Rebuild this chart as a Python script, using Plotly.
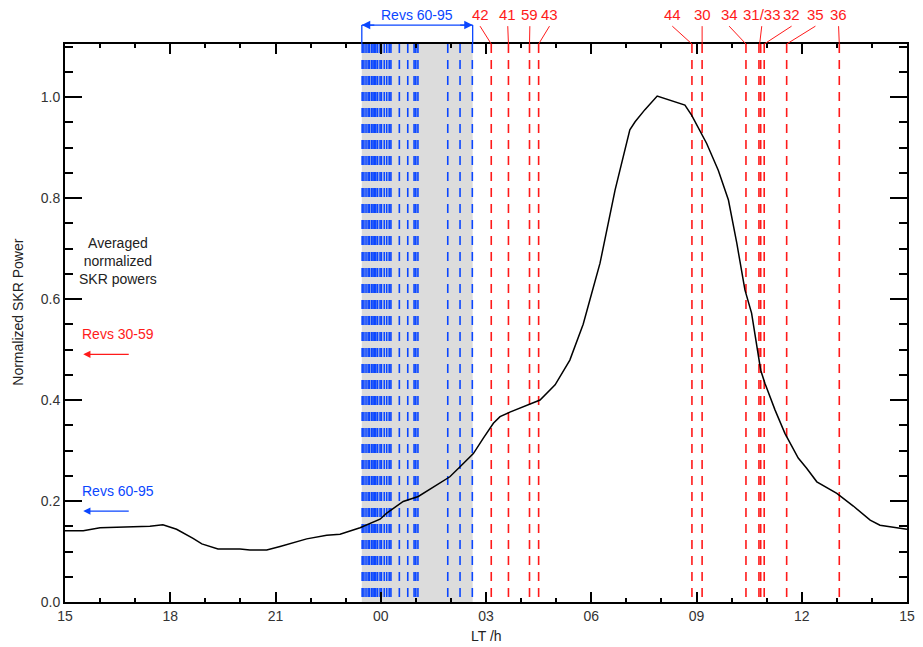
import plotly.graph_objects as go

# ---------------- data ----------------
# Local time in hours (values > 24 belong to the next day)
lt_curve = [15.00, 15.52, 16.00, 16.65, 17.42, 17.79, 18.18, 18.65, 18.90, 19.36,
            19.99, 20.27, 20.75, 21.13, 21.89, 22.46, 22.84, 23.41, 23.98, 24.17,
            24.64, 25.07, 25.60, 25.97, 26.26, 26.45, 26.64, 26.92, 27.21, 27.40,
            27.68, 28.54, 28.97, 29.39, 29.77, 29.96, 30.25, 30.68, 30.91, 31.10,
            31.25, 31.53, 31.88, 32.67, 32.86, 33.29, 33.62, 33.91, 34.15, 34.38,
            34.57, 34.72, 34.83, 34.95, 35.24, 35.52, 35.90, 36.14, 36.43, 37.00,
            37.47, 37.95, 38.23, 38.61, 39.00]
skr_power = [0.141, 0.141, 0.147, 0.149, 0.150, 0.153, 0.144, 0.126, 0.115, 0.105,
             0.105, 0.103, 0.103, 0.110, 0.125, 0.132, 0.134, 0.147, 0.164, 0.176,
             0.199, 0.209, 0.232, 0.248, 0.268, 0.281, 0.294, 0.324, 0.354, 0.367,
             0.376, 0.400, 0.430, 0.479, 0.550, 0.598, 0.671, 0.816, 0.882, 0.935,
             0.951, 0.975, 1.002, 0.984, 0.964, 0.908, 0.855, 0.796, 0.710, 0.618,
             0.572, 0.505, 0.459, 0.433, 0.380, 0.334, 0.285, 0.265, 0.238, 0.215,
             0.190, 0.162, 0.152, 0.148, 0.144]

# Revs 60-95 local times
blue_revs_lt = [23.47, 23.52, 23.58, 23.64, 23.68, 23.74, 23.78, 23.82, 23.86, 23.91,
                23.98, 24.02, 24.10, 24.17, 24.24, 24.29, 24.53, 24.77, 24.95, 25.00,
                25.06, 25.91, 26.26, 26.61]
blue_span = [23.46, 26.62]

# Revs 30-59 local times with labels
red_rev_labels = ["42", "41", "59", "43", "44", "30", "34", "31", "33", "32", "35", "36"]
red_revs_lt = [27.15, 27.64, 28.24, 28.50, 32.87, 33.16, 34.41, 34.78, 34.83, 34.93, 35.57, 37.07]

# top label texts, their LT positions, and the LT their leader lines point to
top_labels = ["42", "41", "59", "43", "44", "30", "34", "31/33", "32", "35", "36"]
top_label_lt = [26.83, 27.62, 28.25, 28.81, 32.31, 33.16, 33.93, 34.86, 35.71, 36.39, 37.05]
top_leader_lt = [27.15, 27.64, 28.24, 28.50, 32.87, 33.16, 34.41, 34.80, 34.93, 35.57, 37.07]

x_tickvals = [15, 18, 21, 24, 27, 30, 33, 36, 39]
x_ticktext = ["15", "18", "21", "00", "03", "06", "09", "12", "15"]
y_tickvals = [0.0, 0.2, 0.4, 0.6, 0.8, 1.0]
y_ticktext = ["0.0", "0.2", "0.4", "0.6", "0.8", "1.0"]

Y_TOP = 1.105
RED = "#ff1a1a"
BLUE = "#0a46ff"
FONT = "Liberation Sans, Arial, Helvetica, sans-serif"

fig = go.Figure()


def vlines(xs):
    xx, yy = [], []
    for x in xs:
        xx += [x, x, None]
        yy += [Y_TOP, 0, None]
    return xx, yy


bx, by = vlines(blue_revs_lt)
fig.add_trace(go.Scatter(x=bx, y=by, mode="lines", hoverinfo="skip",
                         line=dict(color=BLUE, width=1.6, dash="9px,7px")))
rx, ry = vlines(red_revs_lt)
fig.add_trace(go.Scatter(x=rx, y=ry, mode="lines", hoverinfo="skip",
                         line=dict(color=RED, width=1.6, dash="9px,7px")))
fig.add_trace(go.Scatter(x=lt_curve, y=skr_power, mode="lines",
                         line=dict(color="black", width=1.5)))

shapes = [dict(type="rect", xref="x", yref="y", x0=blue_span[0], x1=blue_span[1],
               y0=0, y1=Y_TOP, fillcolor="#dcdcdc", line=dict(width=0), layer="below")]

annotations = []
# top red labels and leader lines
for txt, xl, xt in zip(top_labels, top_label_lt, top_leader_lt):
    annotations.append(dict(x=xl, y=1.052, xref="x", yref="paper", text=txt,
                            showarrow=False, font=dict(color=RED, size=15, family=FONT),
                            xanchor="center", yanchor="middle"))
    shapes.append(dict(type="line", xref="x", yref="paper", x0=xl, x1=xt,
                       y0=1.032, y1=1.0, line=dict(color=RED, width=1)))

# blue bracket on top
shapes.append(dict(type="line", xref="x", yref="paper", x0=blue_span[0], x1=blue_span[1],
                   y0=1.034, y1=1.034, line=dict(color=BLUE, width=1.3)))
for xb in blue_span:
    shapes.append(dict(type="line", xref="x", yref="paper", x0=xb, x1=xb,
                       y0=1.034, y1=1.0, line=dict(color=BLUE, width=1.3)))
annotations.append(dict(x=blue_span[0], y=1.034, xref="x", yref="paper", text="",
                        showarrow=True, ax=14, ay=0, arrowhead=2, arrowsize=1.3,
                        arrowwidth=1.3, arrowcolor=BLUE, standoff=0))
annotations.append(dict(x=blue_span[1], y=1.034, xref="x", yref="paper", text="",
                        showarrow=True, ax=-14, ay=0, arrowhead=2, arrowsize=1.3,
                        arrowwidth=1.3, arrowcolor=BLUE, standoff=0))
annotations.append(dict(x=25.03, y=1.052, xref="x", yref="paper", text="Revs 60-95",
                        showarrow=False, font=dict(color=BLUE, size=14, family=FONT),
                        xanchor="center", yanchor="middle"))

# left legend-like notes
annotations.append(dict(x=16.5, y=0.675, xref="x", yref="y",
                        text="Averaged<br>normalized<br>SKR powers", showarrow=False,
                        font=dict(color="#222222", size=14, family=FONT),
                        xanchor="center", yanchor="middle"))
annotations.append(dict(x=16.5, y=0.530, xref="x", yref="y", text="Revs 30-59",
                        showarrow=False, font=dict(color=RED, size=14, family=FONT),
                        xanchor="center", yanchor="middle"))
annotations.append(dict(x=15.52, y=0.4905, xref="x", yref="y", text="",
                        showarrow=True, ax=47, ay=0, arrowhead=2, arrowsize=1.2,
                        arrowwidth=1.2, arrowcolor=RED, standoff=0))
annotations.append(dict(x=16.5, y=0.219, xref="x", yref="y", text="Revs 60-95",
                        showarrow=False, font=dict(color=BLUE, size=14, family=FONT),
                        xanchor="center", yanchor="middle"))
annotations.append(dict(x=15.52, y=0.180, xref="x", yref="y", text="",
                        showarrow=True, ax=47, ay=0, arrowhead=2, arrowsize=1.2,
                        arrowwidth=1.2, arrowcolor=BLUE, standoff=0))

# axis titles
annotations.append(dict(x=-0.056, y=0.52, xref="paper", yref="paper",
                        text="Normalized SKR Power", textangle=-90, showarrow=False,
                        font=dict(color="#222222", size=14, family=FONT),
                        xanchor="center", yanchor="middle"))
annotations.append(dict(x=0.5, y=-0.061, xref="paper", yref="paper", text="LT /h",
                        showarrow=False, font=dict(color="#222222", size=14, family=FONT),
                        xanchor="center", yanchor="middle"))

fig.update_layout(
    width=923, height=647,
    margin=dict(l=65, r=16, t=44, b=45, autoexpand=False),
    plot_bgcolor="white", paper_bgcolor="white",
    showlegend=False,
    shapes=shapes, annotations=annotations,
    font=dict(family=FONT, size=14, color="#333333"),
    xaxis=dict(range=[15, 39], tickvals=x_tickvals, ticktext=x_ticktext,
               automargin=False,
               ticks="inside", ticklen=10, tickwidth=1.5, tickcolor="black",
               showline=True, linewidth=2, linecolor="black", mirror="allticks",
               showgrid=False, zeroline=False,
               minor=dict(dtick=1, tick0=15, ticks="inside", ticklen=4,
                          tickwidth=1.5, tickcolor="black", showgrid=False),
               tickfont=dict(size=14, color="#333333", family=FONT)),
    yaxis=dict(range=[0, Y_TOP], tickvals=y_tickvals, ticktext=y_ticktext,
               automargin=False,
               ticks="inside", ticklen=17, tickwidth=1.5, tickcolor="black",
               showline=True, linewidth=2, linecolor="black", mirror="allticks",
               showgrid=False, zeroline=False,
               minor=dict(dtick=0.05, tick0=0, ticks="inside", ticklen=8,
                          tickwidth=1.5, tickcolor="black", showgrid=False),
               tickfont=dict(size=14, color="#333333", family=FONT)),
)

fig.write_html("out.html")
